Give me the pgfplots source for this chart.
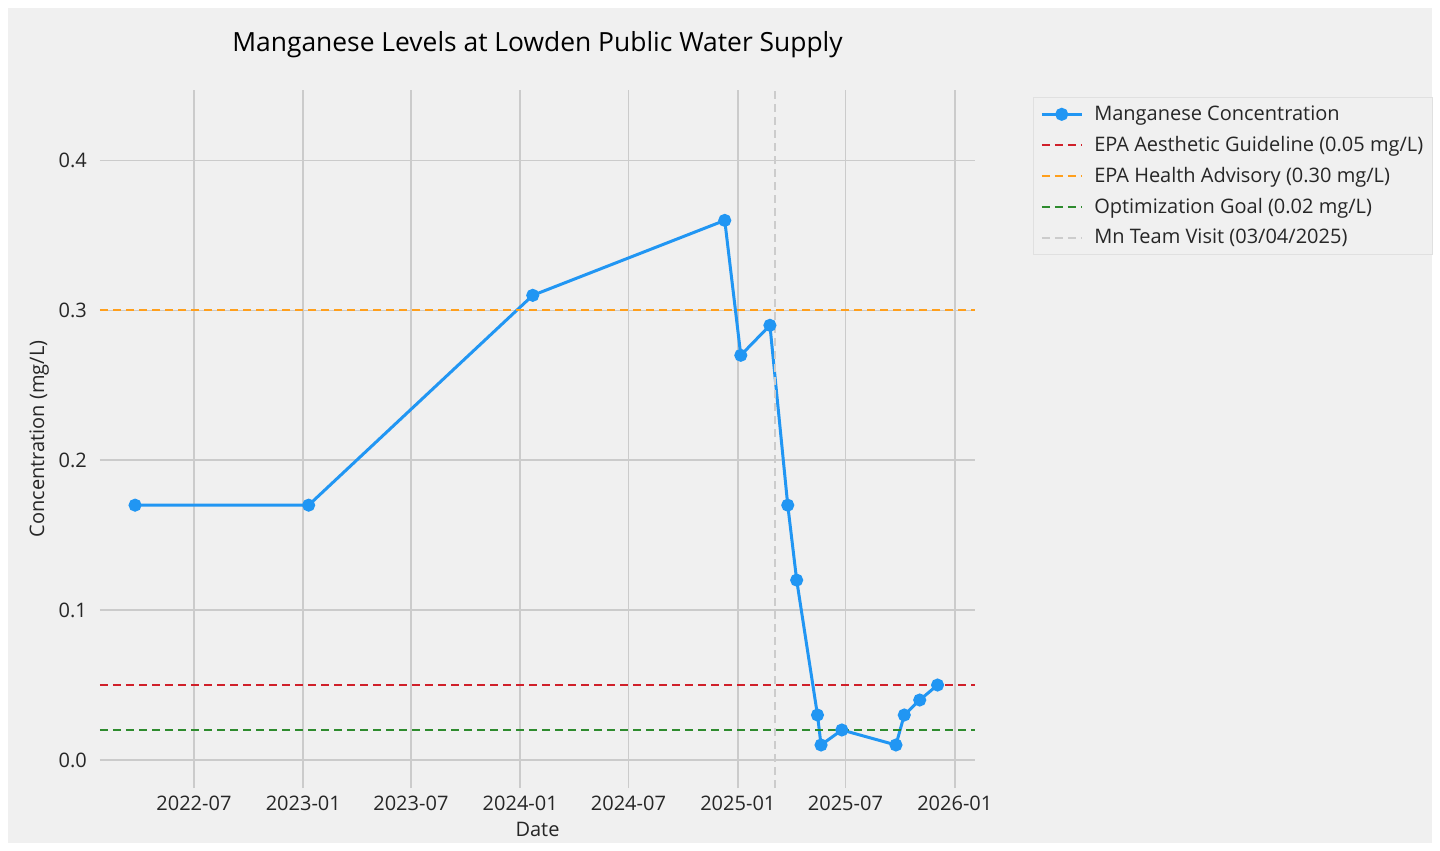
\documentclass[border=0pt]{standalone}
\usepackage{fontspec}
\setmainfont{Open Sans}
\usepackage{pgfplots}
\pgfplotsset{compat=1.18}
\definecolor{bg}{HTML}{F0F0F0}
\definecolor{gridc}{HTML}{CBCBCB}
\definecolor{mnblue}{HTML}{2196F3}
\definecolor{epared}{HTML}{D0202A}
\definecolor{epaorange}{HTML}{FF9F1C}
\definecolor{optgreen}{HTML}{2E8B2E}
\definecolor{visitgray}{HTML}{CCCCCC}
\pgfplotsset{
    dashleg/.style={legend image code/.code={\draw[##1] (0pt,0pt) -- (20pt,0pt);}},
    markleg/.style={legend image code/.code={\draw[##1,mark repeat=2,mark phase=2] plot coordinates {(0pt,0pt) (10pt,0pt) (20pt,0pt)};}},
    refline/.style={line width=1pt, dash pattern=on 4pt off 2.5pt, dashleg},
}

\begin{document}
\begin{tikzpicture}
\path[use as bounding box] (-50pt,-31.5pt) rectangle (670pt,394pt);
\fill[white] (-50pt,-31.5pt) rectangle (670pt,394pt);
\fill[bg] (-46pt,-27.5pt) rectangle (666pt,390pt);
\begin{axis}[
    at={(0pt,0pt)}, anchor=south west,
    scale only axis,
    width=437.5pt, height=349pt,
    xmin=23, xmax=1495,
    ymin=-0.0187, ymax=0.447,
    axis line style={draw=none},
    major tick length=0pt,
    grid=major,
    grid style={color=gridc, line width=0.8pt},
    xtick={181,365,546,730,912,1096,1277,1461},
    xticklabels={2022-07,2023-01,2023-07,2024-01,2024-07,2025-01,2025-07,2026-01},
    ytick={0,0.1,0.2,0.3,0.4},
    yticklabel style={/pgf/number format/fixed, /pgf/number format/fixed zerofill,
        /pgf/number format/precision=1, /pgf/number format/assume math mode=true},
    ticklabel style={font=\fontsize{10}{12}\selectfont, text=black!85},
    xticklabel style={yshift=-0.5pt},
    yticklabel style={xshift=-3pt},
    xlabel={Date},
    ylabel={Concentration (mg/L)},
    label style={font=\fontsize{10}{12}\selectfont, text=black!85},
    xlabel style={yshift=1pt},
    ylabel style={yshift=-2pt},
    title={Manganese Levels at Lowden Public Water Supply},
    title style={font=\fontsize{13.2}{16}\selectfont, yshift=6.5pt},
    legend cell align=left,
    legend style={
        at={(1.066,0.990)}, anchor=north west,
        draw=black!12, fill=bg, line width=0.5pt,
        font=\fontsize{10}{12}\selectfont, text=black!85,
        row sep=4.4pt, inner xsep=3.5pt, inner ysep=3pt,
        nodes={inner sep=1pt},
        /tikz/every odd column/.append style={column sep=4.5pt},
    },
]
\addplot[color=mnblue, line width=1.5pt, mark=*, mark size=2.5pt,
    mark options={fill=mnblue, draw=mnblue}, markleg]
coordinates {
(82,0.17) (374,0.17) (751,0.31) (1074,0.36) (1101,0.27) (1150,0.29)
(1180,0.17) (1195,0.12) (1230,0.03) (1236,0.01) (1271,0.02)
(1362,0.01) (1376,0.03) (1402,0.04) (1432,0.05)
};
\addlegendentry{Manganese Concentration}
\addplot[color=epared, refline] coordinates {(23,0.05) (1495,0.05)};
\addlegendentry{EPA Aesthetic Guideline (0.05 mg/L)}
\addplot[color=epaorange, refline] coordinates {(23,0.30) (1495,0.30)};
\addlegendentry{EPA Health Advisory (0.30 mg/L)}
\addplot[color=optgreen, refline] coordinates {(23,0.02) (1495,0.02)};
\addlegendentry{Optimization Goal (0.02 mg/L)}
\addplot[color=visitgray, refline] coordinates {(1158,-0.0187) (1158,0.447)};
\addlegendentry{Mn Team Visit (03/04/2025)}
\end{axis}
\end{tikzpicture}
\end{document}
